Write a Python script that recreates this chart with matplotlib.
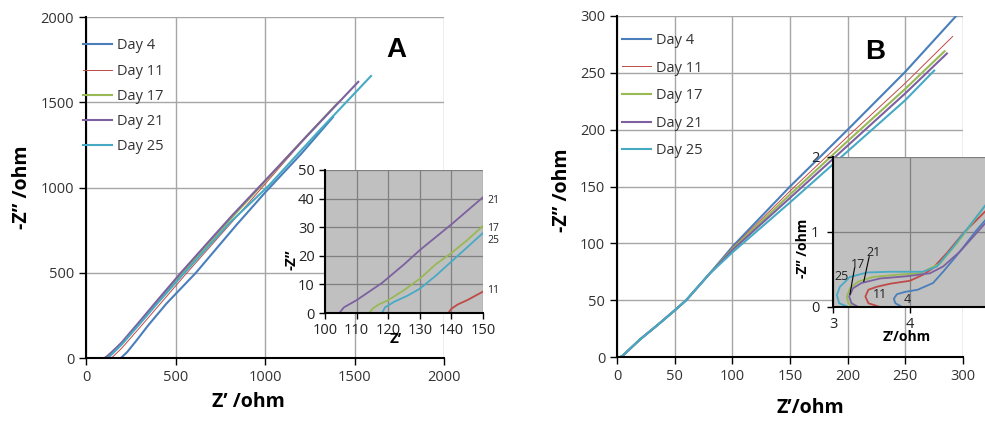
import matplotlib
matplotlib.use('Agg')
import matplotlib.pyplot as plt

plt.rcParams['font.family'] = ['Open Sans', 'DejaVu Sans']

# series names and colours (Excel style)
days = ['Day 4', 'Day 11', 'Day 17', 'Day 21', 'Day 25']
colors = ['#4a7ebb', '#be4b48', '#98b954', '#7d60a0', '#46aac5']

# Panel A: Z' (ohm) and -Z'' (ohm)
a_x = [
    [195, 230, 280, 350, 450, 614, 840, 1000, 1200, 1380],
    [139, 140, 142, 145, 150, 200, 300, 400, 560, 830, 1000, 1200, 1390],
    [114, 115, 117, 120, 125, 130, 135, 140, 145, 150, 200, 300, 400, 540, 820, 1000, 1200, 1410],
    [104.5, 106, 110, 114, 118, 125, 130, 140, 150, 200, 300, 400, 530, 700, 820, 1000, 1250, 1521],
    [118, 119, 122, 126, 130, 135, 140, 145, 150, 200, 300, 400, 550, 800, 1020, 1300, 1592],
]
a_y = [
    [0, 35, 100, 195, 320, 500, 780, 970, 1195, 1413],
    [0, 1.5, 3, 4.5, 7.5, 58, 178, 300, 495, 815, 1020, 1260, 1480],
    [0, 1.5, 3, 4.5, 8, 12, 17, 21, 25.5, 30.5, 83, 205, 330, 500, 830, 1035, 1265, 1500],
    [0, 2, 4.5, 7.5, 10.5, 17, 22, 31, 40.5, 92, 215, 340, 500, 700, 840, 1040, 1320, 1620],
    [0, 2, 4, 6, 8.5, 13, 18, 23, 28, 80, 200, 322, 500, 790, 1010, 1330, 1654],
]

# Panel B
b_x = [
    [3.90, 3.81, 3.79, 3.83, 3.93, 4.10, 4.30, 4.43, 4.61, 4.87, 5.10,
     20, 35, 50, 60, 80, 100, 150, 200, 250, 294],
    [3.61, 3.46, 3.42, 3.46, 3.57, 3.74, 4.00, 4.17, 4.30, 4.48, 4.69, 5.05,
     20, 35, 50, 60, 80, 100, 150, 200, 250, 291],
    [3.26, 3.20, 3.18, 3.22, 3.33, 3.52, 3.83, 4.13, 4.39, 4.61, 5.05,
     20, 35, 50, 60, 80, 100, 150, 200, 250, 284],
    [3.33, 3.24, 3.21, 3.26, 3.37, 3.61, 3.96, 4.26, 4.43, 4.65, 5.05,
     20, 35, 50, 60, 80, 100, 150, 200, 250, 286],
    [3.20, 3.08, 3.05, 3.09, 3.22, 3.44, 3.74, 4.17, 4.35, 4.56, 5.05,
     20, 35, 50, 60, 80, 100, 150, 200, 250, 275],
]
b_y = [
    [0, 0.05, 0.11, 0.17, 0.20, 0.23, 0.32, 0.47, 0.69, 1.03, 1.30,
     15.5, 28, 41, 50, 73, 97, 150, 200, 251, 300],
    [0, 0.05, 0.14, 0.23, 0.27, 0.31, 0.35, 0.43, 0.52, 0.72, 0.98, 1.35,
     15.5, 28, 41, 50, 73, 96, 146, 194, 241, 282],
    [0, 0.05, 0.14, 0.25, 0.34, 0.40, 0.43, 0.45, 0.58, 0.85, 1.45,
     15.5, 28, 41, 50, 73, 95, 143, 190, 236, 269],
    [0, 0.05, 0.14, 0.25, 0.32, 0.38, 0.41, 0.45, 0.54, 0.74, 1.20,
     15.5, 28, 41, 50, 73, 94, 140, 186, 232, 267],
    [0, 0.05, 0.16, 0.27, 0.40, 0.46, 0.47, 0.47, 0.54, 0.80, 1.45,
     15.5, 28, 41, 50, 73, 92, 136, 181, 226, 252],
]

# inset annotations
a_lab_txt = ['21', '17', '25', '11']
a_lab_y = [39.5, 29.4, 25.2, 8.0]
b_lab_txt = ['25', '17', '21', '11', '4']
b_lab_x = [3.11, 3.33, 3.53, 3.61, 3.965]
b_lab_y = [0.40, 0.57, 0.72, 0.17, 0.10]

tick_col = '#333333'

fig = plt.figure(figsize=(9.85, 4.21), dpi=100)


def style_main(ax):
    ax.set_axisbelow(True)
    ax.grid(color='#a6a6a6', lw=1)
    for s in ['top', 'right']:
        ax.spines[s].set_visible(False)
    for s in ['left', 'bottom']:
        ax.spines[s].set_linewidth(1.5)
    ax.tick_params(direction='out', length=5, width=1, labelsize=10.5,
                   labelcolor=tick_col)


def style_inset(ax):
    ax.set_facecolor('#c0c0c0')
    ax.set_axisbelow(True)
    ax.grid(color='#808080', lw=0.9)
    for s in ['top', 'right']:
        ax.spines[s].set_visible(False)
    for s in ['left', 'bottom']:
        ax.spines[s].set_linewidth(1.5)
    ax.tick_params(direction='out', length=4, width=1, labelsize=10.5,
                   labelcolor='#222222')


def draw(ax, xs, ys, lw, lw11):
    for x, y, name, c in zip(xs, ys, days, colors):
        ax.plot(x, y, color=c, lw=lw11 if name == 'Day 11' else lw, label=name)


# ---- Panel A ----
axA = fig.add_axes([0.0873, 0.1496, 0.3635, 0.81])
style_main(axA)
draw(axA, a_x, a_y, 1.5, 0.7)
axA.set_xlim(0, 2000)
axA.set_ylim(0, 2000)
axA.set_xticks(range(0, 2001, 500))
axA.set_yticks(range(0, 2001, 500))
axA.set_xlabel('Z\u2019 /ohm', fontsize=14, fontweight='bold', va='center')
axA.xaxis.set_label_coords(0.4525, -0.129)
axA.set_ylabel('-Z\u201d /ohm', fontsize=14, fontweight='bold', va='center')
axA.yaxis.set_label_coords(-0.179, 0.501)
axA.legend(loc='upper left', bbox_to_anchor=(-0.008, 0.937), frameon=False,
           fontsize=10.5, handlelength=2.0, handletextpad=0.3, labelspacing=0.70,
           borderpad=0, borderaxespad=0, labelcolor=tick_col)
axA.text(0.866, 0.903, 'A', transform=axA.transAxes, fontsize=20,
         fontweight='bold', family='Liberation Sans', ha='center', va='center')

insA = fig.add_axes([0.33, 0.2565, 0.1604, 0.3397])
style_inset(insA)
draw(insA, a_x, a_y, 1.3, 1.3)
insA.set_xlim(100, 150)
insA.set_ylim(0, 50)
insA.set_xticks(range(100, 151, 10))
insA.set_yticks(range(0, 51, 10))
insA.set_xlabel('Z\u2019', fontsize=11, fontweight='bold', va='center')
insA.xaxis.set_label_coords(0.45, -0.18)
insA.set_ylabel('-Z\u201d', fontsize=11, fontweight='bold', va='center')
insA.yaxis.set_label_coords(-0.215, 0.37)
for t, y in zip(a_lab_txt, a_lab_y):
    insA.text(151.3, y, t, fontsize=7.5, ha='left', va='center',
              color='#222222', clip_on=False)

# ---- Panel B ----
axB = fig.add_axes([0.6264, 0.152, 0.3513, 0.81])
style_main(axB)
draw(axB, b_x, b_y, 1.5, 0.7)
axB.set_xlim(0, 300)
axB.set_ylim(0, 300)
axB.set_xticks(range(0, 301, 50))
axB.set_yticks(range(0, 301, 50))
axB.set_xlabel('Z\u2019/ohm', fontsize=14, fontweight='bold', va='center')
axB.xaxis.set_label_coords(0.559, -0.1496)
axB.set_ylabel('-Z\u201d /ohm', fontsize=14, fontweight='bold', va='center')
axB.yaxis.set_label_coords(-0.159, 0.49)
axB.legend(loc='upper left', bbox_to_anchor=(0.0145, 0.950), frameon=False,
           fontsize=10.5, handlelength=2.0, handletextpad=0.3, labelspacing=0.86,
           borderpad=0, borderaxespad=0, labelcolor=tick_col)
axB.text(0.746, 0.894, 'B', transform=axB.transAxes, fontsize=20,
         fontweight='bold', family='Liberation Sans', ha='center', va='center')

insB = fig.add_axes([0.8457, 0.2708, 0.1563, 0.3563])
style_inset(insB)
draw(insB, b_x, b_y, 1.3, 1.3)
insB.set_xlim(3, 5)
insB.set_ylim(0, 2)
insB.set_xticks([3, 4])
insB.set_yticks([0, 1, 2])
insB.tick_params(axis='y', pad=6)
insB.set_xlabel('Z\u2019/ohm', fontsize=10, fontweight='bold', va='center')
insB.xaxis.set_label_coords(0.48, -0.2)
insB.set_ylabel('-Z\u201d /ohm', fontsize=10, fontweight='bold', va='center')
insB.yaxis.set_label_coords(-0.195, 0.393)
for t, x, y in zip(b_lab_txt, b_lab_x, b_lab_y):
    insB.text(x, y, t, fontsize=9, ha='center', va='center', color='#222222')
# leader lines for 17 and 21
insB.plot([3.28, 3.22], [0.52, 0.17], color='black', lw=0.8)
insB.plot([3.47, 3.40], [0.67, 0.34], color='black', lw=0.8)

fig.savefig('out.png', dpi=100)
